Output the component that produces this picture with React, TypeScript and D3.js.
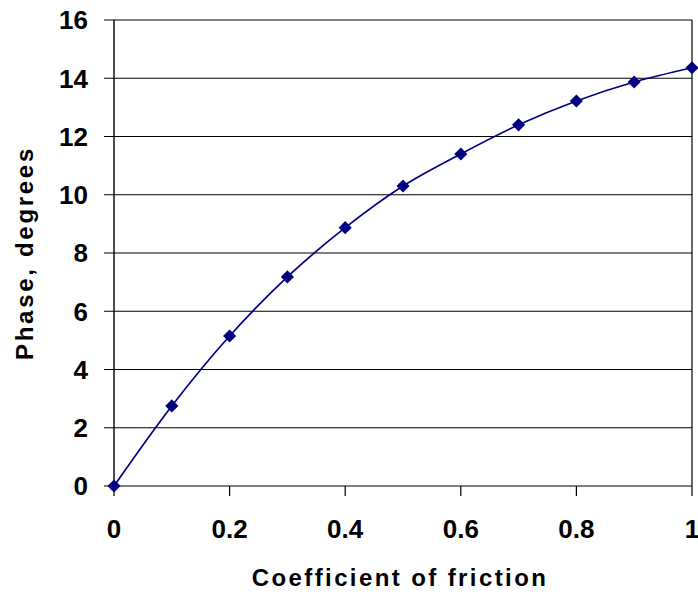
import React from "react";
import * as d3 from "d3";

const xValues = [0, 0.1, 0.2, 0.3, 0.4, 0.5, 0.6, 0.7, 0.8, 0.9, 1.0];
const phaseValues = [0, 2.75, 5.15, 7.18, 8.87, 10.3, 11.4, 12.4, 13.22, 13.87, 14.36];
const xTicks = [0, 0.2, 0.4, 0.6, 0.8, 1];
const yTicks = [0, 2, 4, 6, 8, 10, 12, 14, 16];
const xTitle = "Coefficient of friction";
const yTitle = "Phase, degrees";

const W = 698;
const H = 597;
const M = { left: 114, right: 692, top: 20, bottom: 486 };
const FONT = "'Liberation Sans', Arial, sans-serif";
const NAVY = "#000080";

export default function App() {
  const x = d3.scaleLinear().domain([0, 1]).range([M.left, M.right]);
  const y = d3.scaleLinear().domain([0, 16]).range([M.bottom, M.top]);
  const pts = xValues.map((v, i) => [x(v), y(phaseValues[i])] as [number, number]);
  const line = d3.line().curve(d3.curveCatmullRom.alpha(0.5))(pts) || "";
  const diamond = d3.symbol().type(d3.symbolDiamond2).size(110)() || "";

  return (
    <svg
      width={W}
      height={H}
      style={{ position: "absolute", left: 0, top: 0, background: "#fff" }}
      fontFamily={FONT}
    >
      {yTicks.map((t) => (
        <g key={"y" + t}>
          <line x1={M.left - 10} x2={M.right} y1={y(t)} y2={y(t)} stroke="#000" strokeWidth={1.2} />
          <text
            x={88}
            y={y(t)}
            dy="0.36em"
            textAnchor="end"
            fontSize={26}
            fontWeight="bold"
          >
            {t}
          </text>
        </g>
      ))}
      {xTicks.map((t) => (
        <g key={"x" + t}>
          <line x1={x(t)} x2={x(t)} y1={M.bottom} y2={M.bottom + 10} stroke="#000" strokeWidth={1.2} />
          <text x={x(t)} y={538} textAnchor="middle" fontSize={26} fontWeight="bold">
            {t}
          </text>
        </g>
      ))}
      <line x1={M.left} x2={M.left} y1={M.top} y2={M.bottom} stroke="#000" strokeWidth={1.4} />
      <line x1={M.right} x2={M.right} y1={M.top} y2={M.bottom} stroke="#000" strokeWidth={1.2} />
      <path d={line} fill="none" stroke={NAVY} strokeWidth={1.7} />
      {pts.map((p, i) => (
        <path key={i} d={diamond} transform={`translate(${p[0]},${p[1]})`} fill={NAVY} />
      ))}
      <text
        x={(M.left + M.right) / 2 - 3}
        y={586}
        textAnchor="middle"
        fontSize={24}
        fontWeight="bold"
        letterSpacing={2.4}
      >
        {xTitle}
      </text>
      <text
        transform={`translate(33,${(M.top + M.bottom) / 2}) rotate(-90)`}
        textAnchor="middle"
        fontSize={24}
        fontWeight="bold"
        letterSpacing={2.7}
      >
        {yTitle}
      </text>
    </svg>
  );
}
